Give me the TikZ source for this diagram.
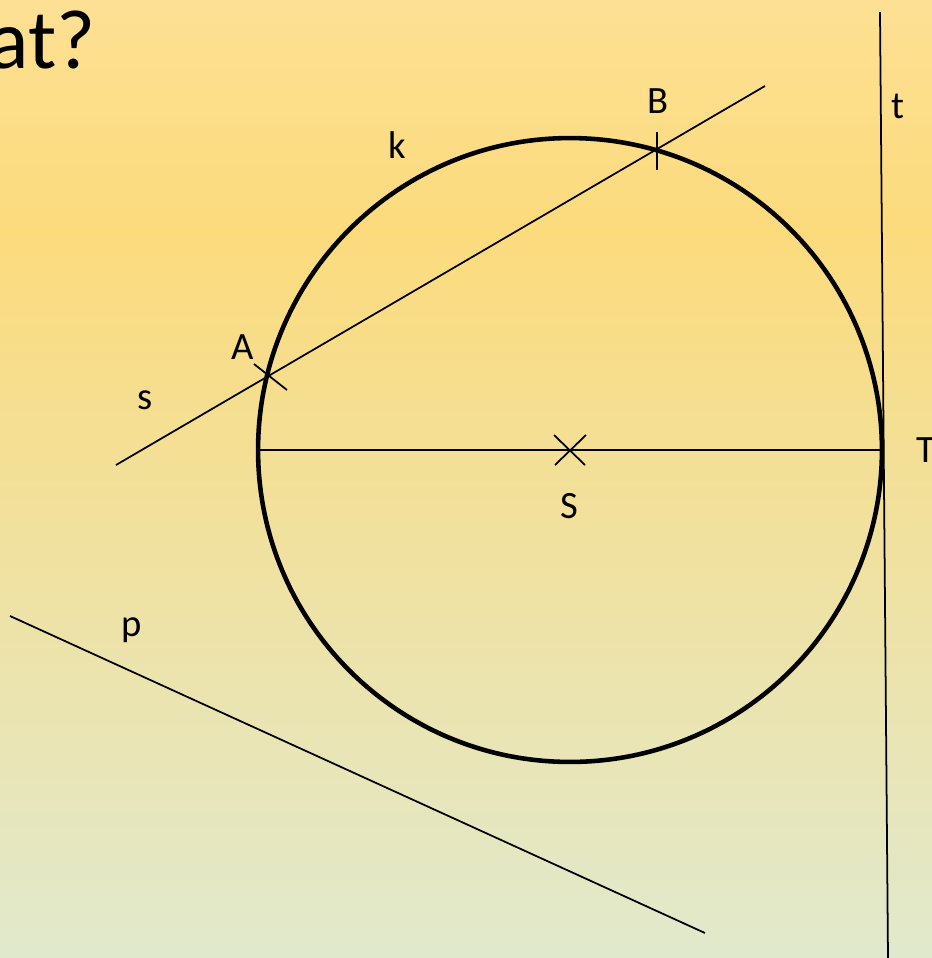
\documentclass[tikz,border=0pt]{standalone}
\usepackage{fontspec}
\setmainfont{Carlito}
\usetikzlibrary{positioning, calc}
\definecolor{bgtop}{HTML}{FDE094}
\definecolor{bgmid}{HTML}{FCDB7D}
\definecolor{bgbot}{HTML}{E1E9CD}

\begin{document}
\begin{tikzpicture}[
    x=0.02cm, y=-0.02cm,
    thinline/.style={black, line width=1pt},
    circleline/.style={black, line width=2.6pt},
    lbl/.style={text=black, inner sep=0pt, font=\fontsize{22}{26}\selectfont},
    titletext/.style={text=black, inner sep=0pt, font=\fontsize{48}{56}\selectfont}
  ]
    \useasboundingbox (0,0) rectangle (932,958);
    % background
    \fill[top color=bgtop, bottom color=bgmid] (0,0) rectangle (932,231);
    \fill[top color=bgmid, bottom color=bgbot] (0,230) rectangle (932,958);

    \node[titletext, anchor=base east] (title) at (96,68) {at?};

    % points
    \coordinate (S) at (570,450);
    \coordinate (A) at (268,376);
    \coordinate (B) at (657,150);
    \coordinate (T) at (882,450);
    \coordinate (W) at (258,450);
    \coordinate (s1) at (116,465);
    \coordinate (s2) at (765,86);
    \coordinate (t1) at (880,12);
    \coordinate (t2) at (888,958);
    \coordinate (p1) at (10,616);
    \coordinate (p2) at (705,933);

    \draw[circleline] (S) circle[radius=6.24cm];
    \draw[thinline] (W) -- (T);
    \draw[thinline] (s1) -- (s2);
    \draw[thinline] (t1) -- (t2);
    \draw[thinline] (p1) -- (p2);

    % marks
    \draw[thinline] ($(A)+(-14,-12)$) -- ($(A)+(19,14)$);
    \draw[thinline] ($(B)+(0,-18)$) -- ($(B)+(0,20)$);
    \draw[thinline] ($(S)+(-16,-15)$) -- ($(S)+(15,15)$);
    \draw[thinline] ($(S)+(16,-15)$) -- ($(S)+(-15,15)$);

    \node[lbl] (labk) at (397,145) {k};
    \node[lbl] (labB) at (658,101) {B};
    \node[lbl] (labt) at (898,106) {t};
    \node[lbl] (labA) at (243,347) {A};
    \node[lbl] (labs) at (145,400) {s};
    \node[lbl] (labT) at (926,450) {T};
    \node[lbl] (labS) at (569,506) {S};
    \node[lbl] (labp) at (132,630) {p};
  \end{tikzpicture}
\end{document}
